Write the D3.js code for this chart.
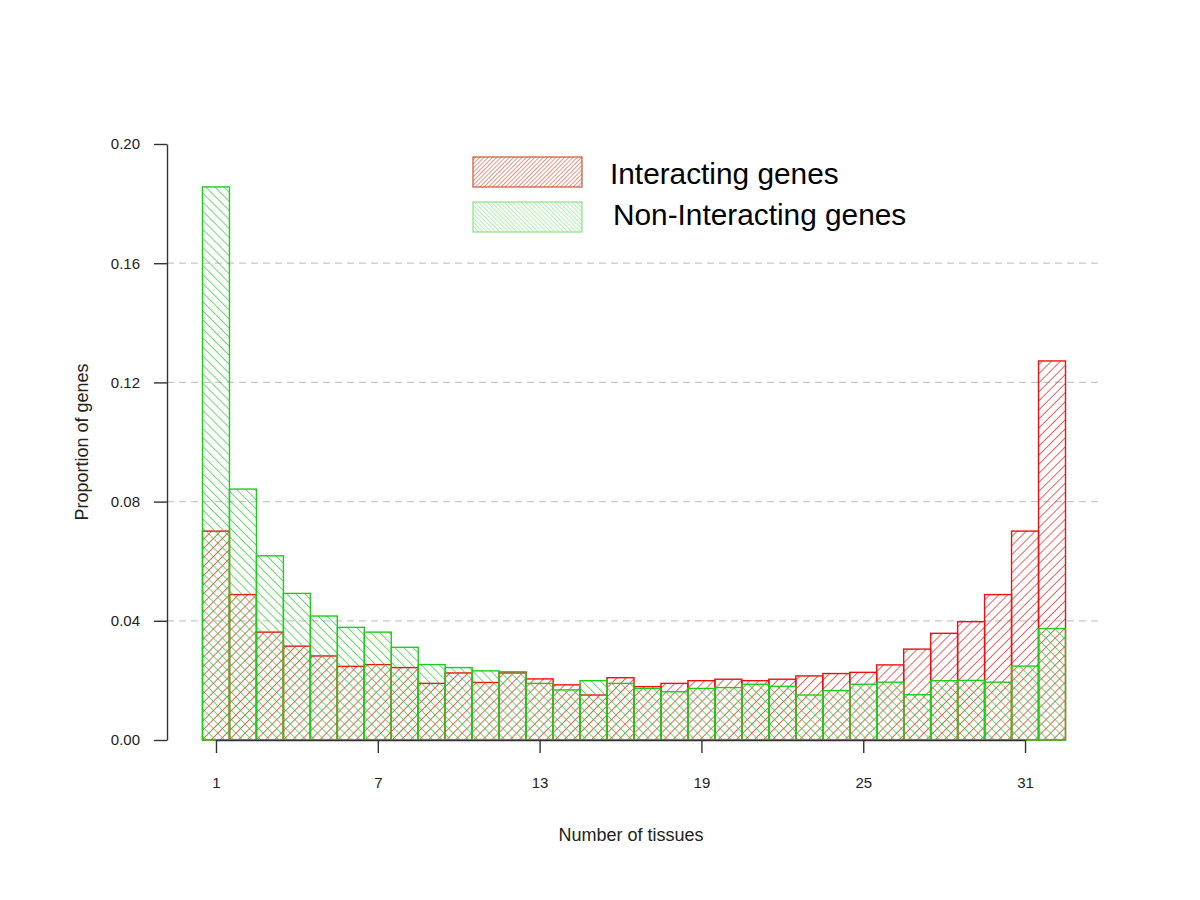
<!DOCTYPE html>
<html>
<head>
<meta charset="utf-8">
<script src="https://d3js.org/d3.v7.min.js"></script>
<style>
  body { margin: 0; background: #fff; }
  text { font-family: Arial, "Liberation Sans", sans-serif; }
</style>
</head>
<body>
<div id="chart"></div>
<script>
// number of tissues a gene is expressed in (one bar each)
var tissues = d3.range(1, 33);

// proportion of genes
var interacting = [0.0701, 0.0488, 0.0362, 0.0315, 0.0282, 0.0247, 0.0253, 0.0243,
                   0.0190, 0.0225, 0.0193, 0.0228, 0.0205, 0.0185, 0.0151, 0.0209,
                   0.0179, 0.0190, 0.0199, 0.0204, 0.0199, 0.0204, 0.0215, 0.0223,
                   0.0227, 0.0252, 0.0305, 0.0358, 0.0397, 0.0488, 0.0701, 0.1272];
var nonInteracting = [0.1856, 0.0842, 0.0618, 0.0492, 0.0416, 0.0378, 0.0362, 0.0311,
                      0.0253, 0.0243, 0.0232, 0.0224, 0.0190, 0.0168, 0.0199, 0.0190,
                      0.0173, 0.0162, 0.0173, 0.0176, 0.0187, 0.0180, 0.0151, 0.0166,
                      0.0187, 0.0194, 0.0152, 0.0199, 0.0200, 0.0194, 0.0248, 0.0374];

var xTicks = [1, 7, 13, 19, 25, 31];
var yTicks = [0, 0.04, 0.08, 0.12, 0.16, 0.20];
var gridTicks = [0.04, 0.08, 0.12, 0.16];
var legendLabels = ["Interacting genes", "Non-Interacting genes"];

var red = "#ee1010";
var green = "#1ecc1e";

var width = 1200, height = 900;

var svg = d3.select("#chart").append("svg")
    .attr("width", width)
    .attr("height", height);

var x = d3.scaleLinear().domain([0.5, 32.5]).range([202.5, 1065.5]);
var y = d3.scaleLinear().domain([0, 0.2]).range([740, 144]);

// hatching patterns, R style density lines
var defs = svg.append("defs");
function hatch(id, color, angle, gap, w) {
    var p = defs.append("pattern")
        .attr("id", id)
        .attr("patternUnits", "userSpaceOnUse")
        .attr("width", gap)
        .attr("height", gap)
        .attr("patternTransform", "rotate(" + angle + ")");
    p.append("line")
        .attr("x1", 0).attr("y1", 0)
        .attr("x2", 0).attr("y2", gap)
        .attr("stroke", color)
        .attr("stroke-width", w);
}
hatch("hatchRed", red, 45, 6.4, 1.3);
hatch("hatchGreen", green, -45, 6.4, 1.3);
hatch("legRed", "#c4401f", 45, 3, 1.1);
hatch("legGreen", "#7ee27e", -45, 3, 1.2);

// grid lines
svg.selectAll(".grid")
    .data(gridTicks)
    .enter()
    .append("line")
    .attr("class", "grid")
    .attr("x1", 167)
    .attr("x2", 1102)
    .attr("y1", function(d){ return y(d); })
    .attr("y2", function(d){ return y(d); })
    .attr("stroke", "#c8c8c8")
    .attr("stroke-width", 1.3)
    .attr("stroke-dasharray", "7,5");

// draws one histogram layer
function drawBars(values, pattern, color, cls) {
    svg.selectAll("." + cls)
        .data(values)
        .enter()
        .append("rect")
        .attr("class", cls)
        .attr("x", function(d, i){ return x(tissues[i] - 0.5); })
        .attr("width", function(d, i){ return x(tissues[i] + 0.5) - x(tissues[i] - 0.5); })
        .attr("y", function(d){ return y(d); })
        .attr("height", function(d){ return y(0) - y(d); })
        .attr("fill", "url(#" + pattern + ")")
        .attr("stroke", color)
        .attr("stroke-width", 1.4);
}
drawBars(interacting, "hatchRed", red, "barRed");
drawBars(nonInteracting, "hatchGreen", green, "barGreen");

// y axis
var yAxis = d3.axisLeft(y)
    .tickValues(yTicks)
    .tickFormat(d3.format(".2f"))
    .tickSize(13)
    .tickSizeOuter(0)
    .tickPadding(14);
var gy = svg.append("g")
    .attr("transform", "translate(167,0)")
    .call(yAxis);

// x axis only spans first to last tick, like R's axis()
var xa = d3.scaleLinear().domain([1, 31]).range([x(1), x(31)]);
var xAxis = d3.axisBottom(xa)
    .tickValues(xTicks)
    .tickSize(13)
    .tickSizeOuter(0)
    .tickPadding(24);
var gx = svg.append("g")
    .attr("transform", "translate(0,740)")
    .call(xAxis);

[gx, gy].forEach(function(g){
    g.selectAll("path, line").attr("stroke", "#333").attr("stroke-width", 1.4);
    g.selectAll("text").attr("fill", "#222").style("font-size", "15px");
});

// axis titles
svg.append("text")
    .attr("x", 631)
    .attr("y", 841)
    .attr("text-anchor", "middle")
    .attr("fill", "#222")
    .style("font-size", "18px")
    .text("Number of tissues");

svg.append("text")
    .attr("transform", "translate(88,442) rotate(-90)")
    .attr("text-anchor", "middle")
    .attr("fill", "#222")
    .style("font-size", "18px")
    .text("Proportion of genes");

// legend
var legend = [
    {label: legendLabels[0], fill: "legRed", stroke: "#cc5533", y: 157, tx: 610, ty: 184},
    {label: legendLabels[1], fill: "legGreen", stroke: "#86e486", y: 202, tx: 613, ty: 225}
];
legend.forEach(function(d){
    svg.append("rect")
        .attr("x", 473)
        .attr("y", d.y)
        .attr("width", 109)
        .attr("height", 30)
        .attr("fill", "url(#" + d.fill + ")")
        .attr("stroke", d.stroke)
        .attr("stroke-width", 1.2);
    svg.append("text")
        .attr("x", d.tx)
        .attr("y", d.ty)
        .attr("fill", "#000")
        .style("font-size", "29.8px")
        .text(d.label);
});
</script>
</body>
</html>
